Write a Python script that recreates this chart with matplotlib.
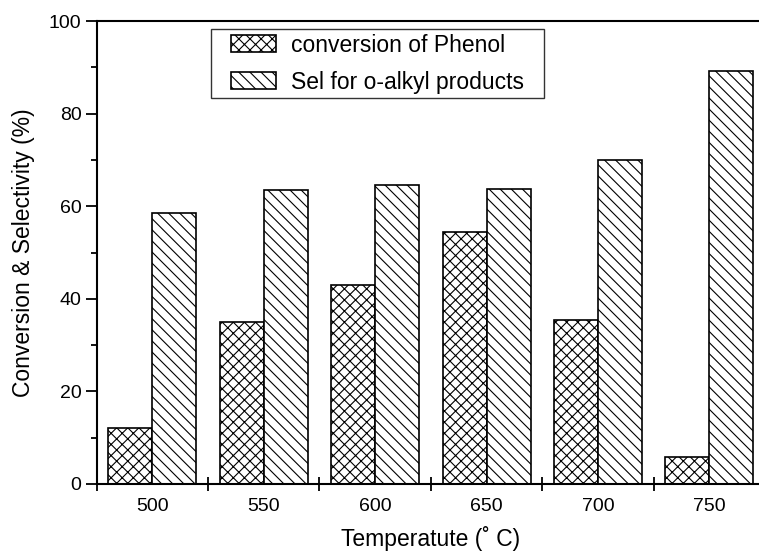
import matplotlib
matplotlib.use("Agg")
import matplotlib.pyplot as plt
from matplotlib.path import Path
import numpy as np

plt.rcParams['font.family'] = ['Liberation Sans', 'DejaVu Sans']
plt.rcParams['hatch.linewidth'] = 0.8

# data
temperatures = ['500', '550', '600', '650', '700', '750']
conversion = [12, 35, 43, 54.5, 35.4, 5.8]
selectivity = [58.5, 63.5, 64.5, 63.8, 70, 89.2]

W, H = 759, 551
fig = plt.figure(figsize=(W / 100, H / 100), dpi=100)
# axes runs a bit past the right edge of the figure, like the original
ax_left, ax_right, ax_top, ax_bottom = 96.7, 765, 21, 484
ax = fig.add_axes([ax_left / W, 1 - ax_bottom / H,
                   (ax_right - ax_left) / W, (ax_bottom - ax_top) / H])

x = np.arange(len(temperatures))
w = 0.395
ax.bar(x - w / 2, conversion, width=w, facecolor='white', edgecolor='black',
       linewidth=1.2, hatch='xxx', label='conversion of Phenol')
ax.bar(x + w / 2, selectivity, width=w, facecolor='white', edgecolor='black',
       linewidth=1.2, hatch='\\\\\\', label='Sel for o-alkyl products')

ax.set_xlim(-0.5, len(temperatures) - 0.5)
ax.set_ylim(0, 100)

# category labels at centres, tick marks between groups
ax.set_xticks(x)
ax.set_xticklabels(temperatures, fontsize=14)
ax.tick_params(axis='x', which='major', length=0, pad=10)
ax.set_xticks(np.arange(-0.5, len(temperatures)), minor=True)
ax.tick_params(axis='x', which='minor', direction='inout', length=10, width=1.3)

ax.set_yticks(np.arange(0, 101, 20))
ax.set_yticks(np.arange(10, 100, 20), minor=True)
ax.tick_params(axis='y', which='major', direction='out', length=8, width=1.3,
               labelsize=14, pad=3)
ax.tick_params(axis='y', which='minor', direction='out', length=4.5, width=1.3)

for side in ['left', 'bottom', 'top', 'right']:
    ax.spines[side].set_linewidth(1.5)

ax.set_xlabel('Temperatute (˚ C)', fontsize=16.5, labelpad=8)
ax.set_ylabel('Conversion & Selectivity (%)', fontsize=16.5, labelpad=10)


def wide_box(x0, y0, width, height, mutation_size):
    # legend frame with extra room left and right only
    px = 0.65 * mutation_size
    return Path([(x0 - px, y0), (x0 + width + px, y0),
                 (x0 + width + px, y0 + height), (x0 - px, y0 + height),
                 (x0 - px, y0)], closed=True)


leg = ax.legend(loc='upper left',
                bbox_to_anchor=((226 - ax_left) / (ax_right - ax_left),
                                (ax_bottom - 29) / (ax_bottom - ax_top)),
                borderaxespad=0, fontsize=16.5,
                frameon=True, fancybox=False, edgecolor='black',
                handlelength=2.0, handleheight=0.74, borderpad=0.2,
                labelspacing=0.62, handletextpad=0.65)
leg.get_frame().set_boxstyle(wide_box)
leg.get_frame().set_linewidth(1.0)

fig.savefig('out.png', dpi=100)
